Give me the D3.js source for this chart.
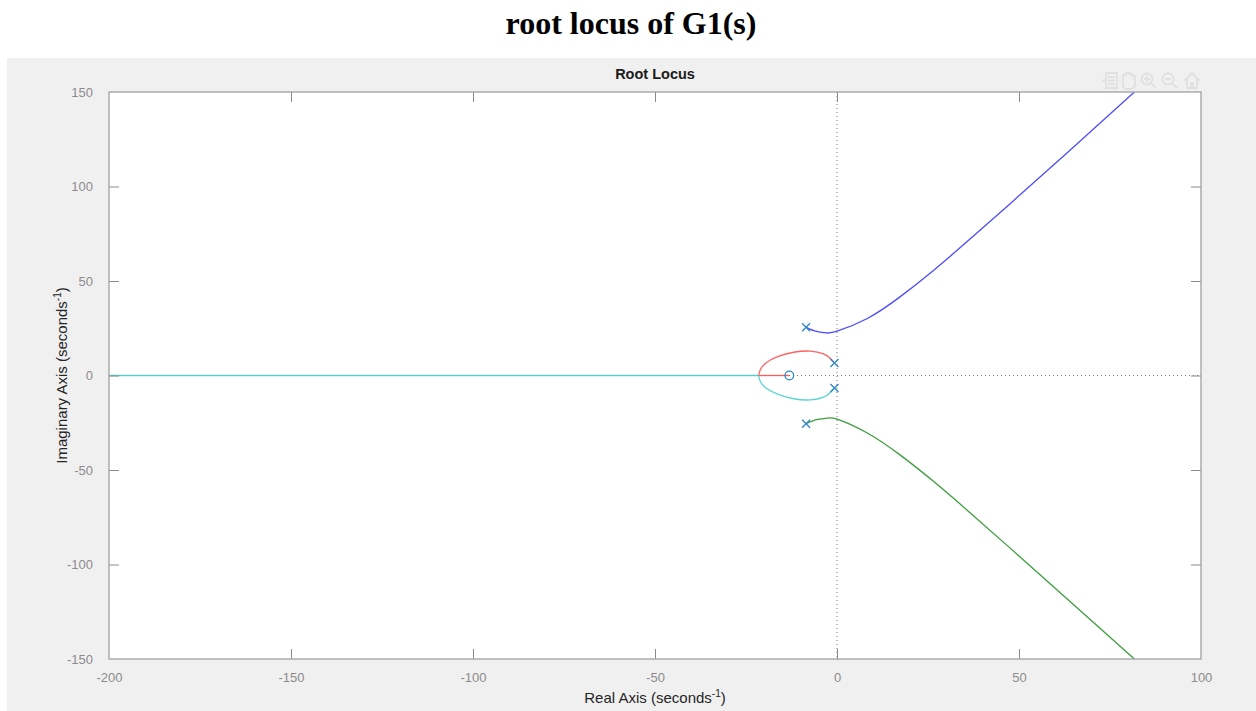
<!DOCTYPE html>
<html>
<head>
<meta charset="utf-8">
<script src="https://cdn.jsdelivr.net/npm/d3@7"></script>
<style>
  html, body { margin: 0; padding: 0; background: #ffffff; }
  svg { display: block; }
</style>
</head>
<body>
<script>
// Axis ticks
const xTicks = [-200, -150, -100, -50, 0, 50, 100];
const yTicks = [-150, -100, -50, 0, 50, 100, 150];

// Open-loop poles and zero (real, imaginary)
const poles = [[-8.5, 25.5], [-8.5, -25.5], [-0.7, 6.6], [-0.7, -6.6]];
const zeros = [[-13.1, 0]];

// Locus branches, each a list of (real, imaginary) points
const branchBlue = [[-8.5, 25.5], [-5.6, 23.3], [-2.8, 22.5], [0.2, 23.6], [8.2, 30.0], [17.3, 41.6],
  [26.5, 55.6], [35.6, 70.6], [47.5, 90.8], [63.1, 117.6], [81.7, 150.0]];
const branchGreen = [[-8.5, -25.5], [-5.6, -23.4], [-2.8, -22.6], [0.2, -23.2], [8.2, -30.3], [17.3, -42.0],
  [26.5, -56.0], [35.6, -71.0], [47.5, -91.2], [63.1, -118.0], [81.7, -150.0]];
const branchRedLoop = [[-0.7, 6.6], [-1.8, 9.0], [-3.7, 11.4], [-7.3, 12.9], [-11.9, 12.3], [-16.5, 9.9],
  [-19.7, 6.4], [-21.1, 2.9], [-21.5, 0]];
const branchRedAxis = [[-21.5, 0], [-13.1, 0]];
const branchCyanLoop = [[-0.7, -6.6], [-1.8, -9.0], [-3.7, -11.4], [-7.3, -12.9], [-11.9, -12.3], [-16.5, -9.7],
  [-19.7, -6.3], [-21.1, -3.0], [-21.5, 0]];
const branchCyanAxis = [[-21.5, 0], [-200, 0]];

const W = 1256, H = 711;
const svg = d3.select("body").append("svg").attr("width", W).attr("height", H);

// Page title
svg.append("text")
  .attr("x", 631).attr("y", 34)
  .attr("text-anchor", "middle")
  .attr("font-family", "'Liberation Serif', 'Times New Roman', serif")
  .attr("font-weight", "bold")
  .attr("font-size", 32)
  .attr("fill", "#000")
  .text("root locus of G1(s)");

// Figure window background
svg.append("rect").attr("x", 7).attr("y", 58).attr("width", W - 7).attr("height", H - 58).attr("fill", "#f0f0f0");

const plot = { left: 109, right: 1201, top: 92, bottom: 659 };
const x = d3.scaleLinear().domain([-200, 100]).range([plot.left, plot.right]);
const y = d3.scaleLinear().domain([-150, 150]).range([plot.bottom, plot.top]);

svg.append("rect")
  .attr("x", plot.left).attr("y", plot.top)
  .attr("width", plot.right - plot.left).attr("height", plot.bottom - plot.top)
  .attr("fill", "#ffffff");

svg.append("clipPath").attr("id", "plotclip")
  .append("rect")
  .attr("x", plot.left).attr("y", plot.top)
  .attr("width", plot.right - plot.left).attr("height", plot.bottom - plot.top);

const inner = svg.append("g").attr("clip-path", "url(#plotclip)");

// Dotted reference lines through the origin
inner.append("line")
  .attr("x1", x(0)).attr("x2", x(0)).attr("y1", plot.top).attr("y2", plot.bottom)
  .attr("stroke", "#777").attr("stroke-width", 1).attr("stroke-dasharray", "1,3");
inner.append("line")
  .attr("x1", plot.left).attr("x2", plot.right).attr("y1", y(0)).attr("y2", y(0))
  .attr("stroke", "#777").attr("stroke-width", 1).attr("stroke-dasharray", "1,3");

const smooth = d3.line().x(d => x(d[0])).y(d => y(d[1])).curve(d3.curveNatural);
const straight = d3.line().x(d => x(d[0])).y(d => y(d[1]));

const branches = [
  { pts: branchCyanAxis, color: "#40cccc", gen: straight },
  { pts: branchRedAxis, color: "#ff4545", gen: straight },
  { pts: branchRedLoop, color: "#ff4545", gen: smooth },
  { pts: branchCyanLoop, color: "#40cccc", gen: smooth },
  { pts: branchBlue, color: "#2b2bff", gen: smooth },
  { pts: branchGreen, color: "#1a8c1a", gen: smooth }
];
branches.forEach(b => {
  inner.append("path")
    .attr("d", b.gen(b.pts))
    .attr("fill", "none")
    .attr("stroke", b.color)
    .attr("stroke-width", 1.3)
    .attr("stroke-opacity", 0.85);
});

// Pole and zero markers
const markColor = "#2f86c9";
inner.selectAll(".pole").data(poles).enter().append("path")
  .attr("class", "pole")
  .attr("transform", d => `translate(${x(d[0])},${y(d[1])})`)
  .attr("d", "M-4,-4L4,4M-4,4L4,-4")
  .attr("stroke", markColor).attr("stroke-width", 1.3).attr("fill", "none");
inner.selectAll(".zero").data(zeros).enter().append("circle")
  .attr("class", "zero")
  .attr("cx", d => x(d[0])).attr("cy", d => y(d[1])).attr("r", 4.3)
  .attr("stroke", markColor).attr("stroke-width", 1.3).attr("fill", "none");

// Axes with inward ticks on all four sides
const tickLen = 10;
const axisColor = "#a0a0a0";
const tickFont = "'Liberation Sans', Arial, Helvetica, sans-serif";
const fmt = d => String(d);

const axB = svg.append("g").attr("transform", `translate(0,${plot.bottom})`)
  .call(d3.axisBottom(x).tickValues(xTicks).tickSize(-tickLen).tickPadding(tickLen + 4).tickFormat(fmt));
const axT = svg.append("g").attr("transform", `translate(0,${plot.top})`)
  .call(d3.axisTop(x).tickValues(xTicks).tickSize(-tickLen).tickFormat(""));
const axL = svg.append("g").attr("transform", `translate(${plot.left},0)`)
  .call(d3.axisLeft(y).tickValues(yTicks).tickSize(-tickLen).tickPadding(tickLen + 6).tickFormat(fmt));
const axR = svg.append("g").attr("transform", `translate(${plot.right},0)`)
  .call(d3.axisRight(y).tickValues(yTicks).tickSize(-tickLen).tickFormat(""));

[axB, axT, axL, axR].forEach(a => {
  a.select(".domain").remove();
  a.selectAll(".tick line").attr("stroke", "#8a8a8a").attr("stroke-width", 1);
  a.selectAll(".tick text")
    .attr("fill", "#8c8c8c")
    .attr("font-family", tickFont)
    .attr("font-size", 13);
});
// drop end ticks that sit on the frame corners
[axB, axT].forEach(a => a.selectAll(".tick line").filter(d => d === -200 || d === 100).remove());
[axL, axR].forEach(a => a.selectAll(".tick line").filter(d => d === -150 || d === 150).remove());
axL.selectAll(".tick text").attr("dy", "0.32em");

// Axes frame
svg.append("rect")
  .attr("x", plot.left).attr("y", plot.top)
  .attr("width", plot.right - plot.left).attr("height", plot.bottom - plot.top)
  .attr("fill", "none").attr("stroke", axisColor).attr("stroke-width", 1.3);

// Axes title and labels
svg.append("text")
  .attr("x", (plot.left + plot.right) / 2).attr("y", 79)
  .attr("text-anchor", "middle")
  .attr("font-family", tickFont).attr("font-weight", "bold").attr("font-size", 14.5)
  .attr("fill", "#1a1a1a")
  .text("Root Locus");

const xl = svg.append("text")
  .attr("x", (plot.left + plot.right) / 2).attr("y", 703)
  .attr("text-anchor", "middle")
  .attr("font-family", tickFont).attr("font-size", 15)
  .attr("fill", "#262626");
xl.append("tspan").text("Real Axis (seconds");
xl.append("tspan").attr("dy", -6).attr("font-size", 10).text("-1");
xl.append("tspan").attr("dy", 6).text(")");

const yl = svg.append("text")
  .attr("transform", `translate(67,${(plot.top + plot.bottom) / 2}) rotate(-90)`)
  .attr("text-anchor", "middle")
  .attr("font-family", tickFont).attr("font-size", 15)
  .attr("fill", "#262626");
yl.append("tspan").text("Imaginary Axis (seconds");
yl.append("tspan").attr("dy", -6).attr("font-size", 10).text("-1");
yl.append("tspan").attr("dy", 6).text(")");

// Faint figure toolbar in the top-right corner
const tb = svg.append("g").attr("fill", "none").attr("stroke", "#e0e0e0").attr("stroke-width", 1.8);
// export
tb.append("path").attr("d", "M1106,73h11v15h-11zM1108,77h7M1108,80.5h7M1108,84h7M1106,80.5l-4,0");
// pan hand
tb.append("path").attr("d", "M1123,82v-6a1.5,1.5 0 0 1 3,0v-2a1.5,1.5 0 0 1 3,0v1a1.5,1.5 0 0 1 3,0v2a1.5,1.5 0 0 1 3,0v7c0,3 -2,5 -5,5h-3c-2,0 -3,-1 -4,-3z");
// zoom in
tb.append("circle").attr("cx", 1147).attr("cy", 79).attr("r", 5.5);
tb.append("path").attr("d", "M1151,83l5,5M1144,79h6M1147,76v6");
// zoom out
tb.append("circle").attr("cx", 1168).attr("cy", 79).attr("r", 5.5);
tb.append("path").attr("d", "M1172,83l5,5M1165,79h6");
// home
tb.append("path").attr("d", "M1184,81l8,-8l8,8M1187,79v9h4v-5h2v5h4v-9");
</script>
</body>
</html>
